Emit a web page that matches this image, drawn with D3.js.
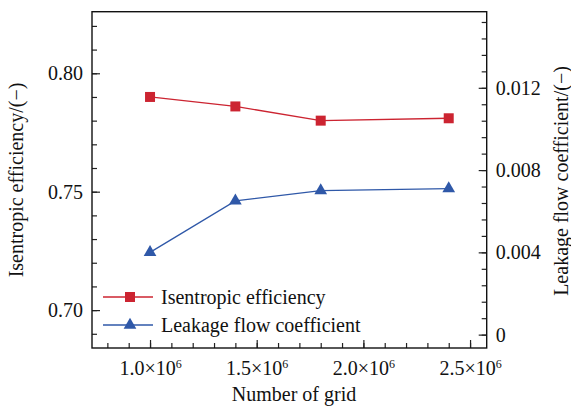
<!DOCTYPE html>
<html>
<head>
<meta charset="utf-8">
<script src="https://cdn.jsdelivr.net/npm/d3@7"></script>
<style>
  body { margin: 0; background: #fff; }
  text { font-family: "Liberation Serif", "Times New Roman", serif; fill: #111; }
</style>
</head>
<body>
<div id="chart"></div>
<script>
// grid counts and results
var grids = [1.0e6, 1.4e6, 1.8e6, 2.4e6];
var efficiency = [0.790, 0.786, 0.780, 0.781];
var leakage = [0.0040, 0.0065, 0.0070, 0.0071];
var xTicks = [1.0e6, 1.5e6, 2.0e6, 2.5e6];
var leftTicks = [0.70, 0.75, 0.80];
var rightTicks = [0, 0.004, 0.008, 0.012];
var seriesNames = ["Isentropic efficiency", "Leakage flow coefficient"];

var W = 571, H = 407;
var red = "#cc2431", blue = "#2f58a8";
var padL = 92, padR = 486.7, padT = 11.7, padB = 348;
var fs = 20;

var svg = d3.select("#chart").append("svg")
    .attr("width", W)
    .attr("height", H);

var x = d3.scaleLinear().domain([0.728e6, 2.578e6]).range([padL, padR]);
var yL = d3.scaleLinear().domain([0.684, 0.826]).range([padB, padT]);
var yR = d3.scaleLinear().domain([-0.00065, 0.0157]).range([padB, padT]);

// minor ticks
function minorTicks(scale, step, start) {
    var d = scale.domain(), out = [];
    for (var v = start; v <= d[1] + 1e-12; v += step) {
        if (v >= d[0] - 1e-12) out.push(+v.toFixed(8));
    }
    return out;
}

// x axis
svg.append("g")
    .attr("transform", "translate(0," + padB + ")")
    .call(d3.axisBottom(x).tickValues(minorTicks(x, 1e5, 0.8e6)).tickSize(-5).tickFormat(""))
    .call(function (g) { g.select(".domain").remove(); });
var gx = svg.append("g")
    .attr("transform", "translate(0," + padB + ")")
    .call(d3.axisBottom(x).tickValues(xTicks).tickSize(-8).tickPadding(13).tickFormat(""))
    .call(function (g) { g.select(".domain").remove(); });
gx.selectAll(".tick text").each(function (d) {
    var t = d3.select(this)
        .attr("font-size", fs)
        .attr("fill", "#111")
        .attr("dy", "0.71em");
    t.append("tspan").text((d / 1e6).toFixed(1) + "×10");
    t.append("tspan").text("6").attr("font-size", 12).attr("dy", -7);
});

// left axis
svg.append("g")
    .attr("transform", "translate(" + padL + ",0)")
    .call(d3.axisLeft(yL).tickValues(minorTicks(yL, 0.01, 0.69)).tickSize(-5).tickFormat(""))
    .call(function (g) { g.select(".domain").remove(); });
svg.append("g")
    .attr("transform", "translate(" + padL + ",0)")
    .call(d3.axisLeft(yL).tickValues(leftTicks).tickSize(-8).tickPadding(9).tickFormat(d3.format(".2f")))
    .call(function (g) { g.select(".domain").remove(); })
    .selectAll("text").attr("font-size", fs).attr("fill", "#111");

// right axis
svg.append("g")
    .attr("transform", "translate(" + padR + ",0)")
    .call(d3.axisRight(yR).tickValues(minorTicks(yR, 0.0008, 0)).tickSize(-5).tickFormat(""))
    .call(function (g) { g.select(".domain").remove(); });
svg.append("g")
    .attr("transform", "translate(" + padR + ",0)")
    .call(d3.axisRight(yR).tickValues(rightTicks).tickSize(-8).tickPadding(9)
        .tickFormat(function (d) { return d === 0 ? "0" : d3.format(".3f")(d); }))
    .call(function (g) { g.select(".domain").remove(); })
    .selectAll("text").attr("font-size", fs).attr("fill", "#111");

svg.selectAll(".tick line").attr("stroke", "#222").attr("stroke-width", 1.2);

// frame
svg.append("rect")
    .attr("x", padL).attr("y", padT)
    .attr("width", padR - padL).attr("height", padB - padT)
    .attr("fill", "none").attr("stroke", "#111").attr("stroke-width", 1.4);

// series
var line = d3.line();
var effPts = grids.map(function (g, i) { return [x(g), yL(efficiency[i])]; });
var leakPts = grids.map(function (g, i) { return [x(g), yR(leakage[i])]; });

svg.append("path").attr("d", line(effPts)).attr("fill", "none").attr("stroke", red).attr("stroke-width", 1.3);
svg.append("path").attr("d", line(leakPts)).attr("fill", "none").attr("stroke", blue).attr("stroke-width", 1.3);

var sq = d3.symbol().type(d3.symbolSquare).size(100);
var tri = d3.symbol().type(d3.symbolTriangle).size(70);

function drawMarkers(pts, sym, col) {
    svg.append("g").selectAll("path")
        .data(pts).enter().append("path")
        .attr("transform", function (p) { return "translate(" + p[0] + "," + p[1] + ")"; })
        .attr("d", sym)
        .attr("fill", col);
}
drawMarkers(effPts, sq, red);
drawMarkers(leakPts, tri, blue);

// legend
var legY = [297, 325], legCols = [red, blue], legSyms = [sq, tri];
seriesNames.forEach(function (name, i) {
    svg.append("line")
        .attr("x1", 103).attr("x2", 153)
        .attr("y1", legY[i]).attr("y2", legY[i])
        .attr("stroke", legCols[i]).attr("stroke-width", 1.3);
    svg.append("path")
        .attr("transform", "translate(130," + legY[i] + ")")
        .attr("d", legSyms[i]).attr("fill", legCols[i]);
    svg.append("text")
        .attr("x", 161).attr("y", legY[i]).attr("dy", "0.35em")
        .attr("font-size", fs).text(name);
});

// axis titles
svg.append("text")
    .attr("x", 294).attr("y", 401)
    .attr("text-anchor", "middle").attr("font-size", fs)
    .text("Number of grid");
svg.append("text")
    .attr("transform", "translate(23,180) rotate(-90)")
    .attr("text-anchor", "middle").attr("font-size", fs)
    .text("Isentropic efficiency/(−)");
svg.append("text")
    .attr("transform", "translate(568,181) rotate(-90)")
    .attr("text-anchor", "middle").attr("font-size", fs)
    .text("Leakage flow coefficient/(−)");
</script>
</body>
</html>
